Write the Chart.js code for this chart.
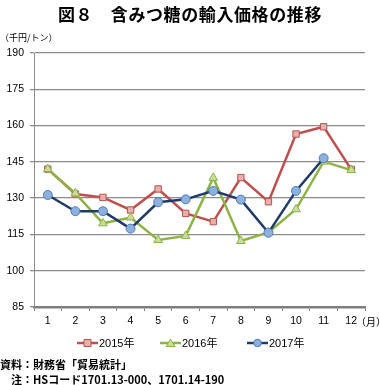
<!DOCTYPE html>
<html><head><meta charset="utf-8">
<script src="https://cdn.jsdelivr.net/npm/chart.js@4"></script>
<style>
html,body{margin:0;padding:0;background:#fff;}
#wrap{position:relative;width:380px;height:385px;overflow:hidden;font-family:"Liberation Sans","Noto Sans CJK JP",sans-serif;color:#000;}
canvas{position:absolute;left:0;top:0;}
.t{position:absolute;white-space:nowrap;}
#title{left:0;width:380px;top:1px;text-align:center;font:bold 17px "Noto Sans CJK JP",sans-serif;letter-spacing:0.6px;}
#unit{left:0;top:31px;font:9px "Noto Sans CJK JP",sans-serif;}
#mon{left:356px;top:314px;font:10px "Noto Sans CJK JP",sans-serif;}
#src1{left:0;top:356px;font:bold 11px "Noto Sans CJK JP",sans-serif;}
#src2{left:0;top:371px;font:bold 11px "Noto Sans CJK JP",sans-serif;}
</style></head>
<body><div id="wrap">
<canvas id="c" width="380" height="385"></canvas>
<div class="t" id="title">図８　含みつ糖の輸入価格の推移</div>
<div class="t" id="unit">（千円/トン）</div>
<div class="t" id="mon">（月）</div>
<div class="t" id="src1">資料：財務省「貿易統計」</div>
<div class="t" id="src2">　注：HSコード1701.13-000、1701.14-190</div>
</div>
<script>
const months = ["1","2","3","4","5","6","7","8","9","10","11","12"];
const seriesNames = ["2015年","2016年","2017年"];
const v2015 = [142.0,131.7,130.3,125.1,133.8,123.7,120.3,138.5,128.5,156.5,159.5,141.9];
const v2016 = [142.0,132.0,119.6,122.0,112.7,114.4,138.4,112.3,115.8,125.4,145.1,141.6];
const v2017 = [131.3,124.6,124.6,117.4,128.3,129.5,133.0,129.4,115.7,133.0,146.5,null];
const yTicks = [85,100,115,130,145,160,175,190];

const styles = [
  {line:"#C0504D", fill:"#E6B0AE", border:"#C0504D", shape:"rect"},
  {line:"#8DB443", fill:"#C9DC9F", border:"#8DB443", shape:"triangle"},
  {line:"#1F3A6B", fill:"#8DB0DC", border:"#4F7DC0", shape:"circle"}
];
const vals = [v2015, v2016, v2017];

const legendPlugin = {
  id:"customLegend",
  afterDraw(chart){
    const ctx = chart.ctx;
    const xs = [77,160,247];
    const y = 343;
    ctx.save();
    for(let i=0;i<3;i++){
      const s = styles[i];
      ctx.strokeStyle = s.line; ctx.lineWidth = 2.5;
      ctx.beginPath(); ctx.moveTo(xs[i],y); ctx.lineTo(xs[i]+21,y); ctx.stroke();
      const cx = xs[i]+10.5;
      ctx.fillStyle = s.fill; ctx.strokeStyle = s.border; ctx.lineWidth = 1;
      ctx.beginPath();
      if(s.shape==="rect"){ ctx.rect(cx-3.5,y-3.5,7,7); }
      else if(s.shape==="triangle"){ ctx.moveTo(cx,y-4); ctx.lineTo(cx+4.5,y+3.5); ctx.lineTo(cx-4.5,y+3.5); ctx.closePath(); }
      else { ctx.arc(cx,y,3.8,0,Math.PI*2); }
      ctx.fill(); ctx.stroke();
      ctx.fillStyle = "#000"; ctx.font = '11px "Liberation Sans","Noto Sans CJK JP",sans-serif';
      ctx.textBaseline = "middle"; ctx.textAlign = "left";
      ctx.fillText(seriesNames[i], xs[i]+22, y+0.5);
    }
    ctx.restore();
  }
};

new Chart(document.getElementById("c"), {
  type:"line",
  data:{
    labels: months,
    datasets: vals.map((d,i)=>({
      label: seriesNames[i],
      data: d,
      borderColor: styles[i].line,
      borderWidth: 2.5,
      backgroundColor: styles[i].fill,
      pointBackgroundColor: styles[i].fill,
      pointBorderColor: styles[i].border,
      pointBorderWidth: 1,
      pointStyle: styles[i].shape,
      pointRadius: styles[i].shape==="rect"?4.5:(styles[i].shape==="triangle"?5:4.5),
      tension: 0,
      spanGaps: false,
      order: 3-i
    }))
  },
  options:{
    responsive:false,
    animation:false,
    devicePixelRatio:1,
    layout:{padding:{left:0,right:15,top:53,bottom:0}},
    plugins:{legend:{display:false},tooltip:{enabled:false},title:{display:false}},
    scales:{
      x:{
        offset:true,
        grid:{drawOnChartArea:false,drawTicks:true,tickLength:4,color:"#808080",offset:true},
        border:{color:"#7f7f7f",width:2.5},
        ticks:{color:"#000",font:{family:"Liberation Sans",size:10.5},padding:4,maxRotation:0},
        afterFit(s){ s.height = 78; }
      },
      y:{
        min:85,max:190,
        afterBuildTicks(s){ s.ticks = yTicks.map(v=>({value:v})); },
        grid:{color:"#8c8c8c",lineWidth:1.3,drawTicks:true,tickLength:4},
        border:{color:"#8c8c8c",width:1},
        ticks:{color:"#000",font:{family:"Liberation Sans",size:10.5},padding:6},
        afterFit(s){ s.width = 34; }
      }
    }
  },
  plugins:[legendPlugin]
});
</script>
</body></html>
